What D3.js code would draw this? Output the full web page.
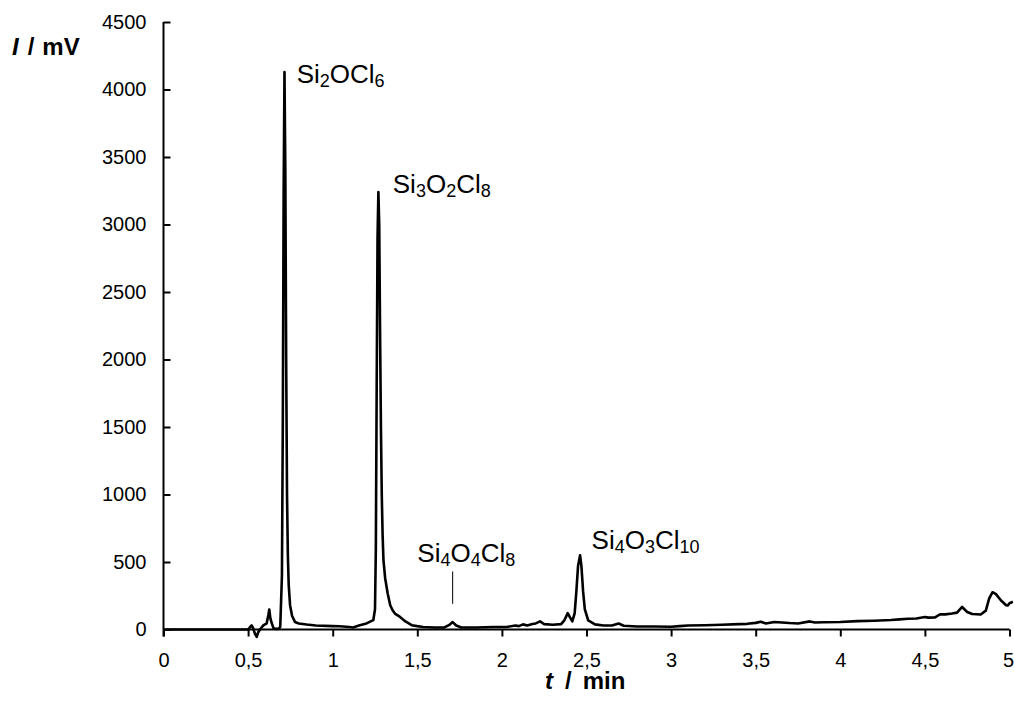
<!DOCTYPE html>
<html>
<head>
<meta charset="utf-8">
<script src="https://cdn.jsdelivr.net/npm/d3@7"></script>
<style>
  html, body { margin: 0; padding: 0; background: #fff; }
  svg { display: block; font-family: "Liberation Sans", Arial, sans-serif; }
</style>
</head>
<body>
<svg id="chart" width="1014" height="714"></svg>
<script>
// ---- data ----
const timeMin = [0, 0.5, 0.51, 0.521, 0.53, 0.54, 0.551, 0.56, 0.57, 0.59, 0.61, 0.62, 0.625, 0.632, 0.64, 0.65, 0.66, 0.68, 0.69,
  0.70, 0.705, 0.71, 0.715, 0.72, 0.725, 0.73, 0.735, 0.74, 0.748, 0.76, 0.777, 0.80, 0.846, 0.9, 1.0, 1.04, 1.1, 1.12, 1.16, 1.2,
  1.24, 1.25, 1.255, 1.26, 1.265, 1.27, 1.275, 1.28, 1.285, 1.29, 1.295, 1.30, 1.31, 1.325, 1.34, 1.354, 1.37, 1.398, 1.43, 1.467,
  1.5, 1.534, 1.6, 1.66, 1.69, 1.709, 1.73, 1.76, 1.85, 1.95, 2.03, 2.08, 2.1, 2.125, 2.15, 2.18, 2.2, 2.225, 2.25, 2.3, 2.35,
  2.37, 2.389, 2.40, 2.416, 2.43, 2.44, 2.45, 2.462, 2.47, 2.48, 2.49, 2.51, 2.55, 2.6, 2.65, 2.69, 2.72, 2.8, 2.9, 3.0, 3.05,
  3.1, 3.2, 3.3, 3.4, 3.45, 3.5, 3.53, 3.56, 3.61, 3.7, 3.75, 3.82, 3.85, 3.9, 4.0, 4.1, 4.2, 4.3, 4.35, 4.4, 4.45, 4.5, 4.52,
  4.56, 4.59, 4.62, 4.66, 4.69, 4.72, 4.75, 4.78, 4.83, 4.86, 4.88, 4.90, 4.92, 4.95, 4.98, 4.99, 5.0, 5.02];
const signalMV = [0, 0, 15, 30, 10, -30, -55, -20, 0, 30, 46, 110, 148, 80, 46, 10, 5, 5, 20,
  400, 1500, 3200, 4130, 3400, 2000, 1000, 550, 330, 180, 100, 56, 45, 37, 30, 25, 24, 18, 15, 32, 45,
  69, 150, 600, 1800, 2900, 3240, 3000, 2200, 1500, 1000, 700, 514, 380, 267, 180, 143, 115, 93, 60, 32,
  25, 19, 15, 15, 35, 55, 30, 15, 15, 18, 19, 30, 25, 38, 30, 40, 45, 60, 40, 35, 40,
  70, 121, 95, 61, 120, 280, 470, 550, 470, 280, 150, 67, 38, 30, 30, 44, 28, 22, 22, 20, 25,
  30, 32, 35, 40, 42, 49, 58, 45, 56, 48, 45, 60, 52, 54, 56, 62, 65, 70, 75, 80, 82, 92, 88,
  90, 113, 112, 118, 125, 167, 130, 115, 111, 140, 230, 276, 262, 215, 180, 178, 195, 205];

const xTicks = [0, 0.5, 1, 1.5, 2, 2.5, 3, 3.5, 4, 4.5, 5];
const xTickLabels = ["0", "0,5", "1", "1,5", "2", "2,5", "3", "3,5", "4", "4,5", "5"];
const yTicks = [0, 500, 1000, 1500, 2000, 2500, 3000, 3500, 4000, 4500];

// peak labels: [text, isSubscript]
const peakNames = [
  [["Si", false], ["2", true], ["OCl", false], ["6", true]],
  [["Si", false], ["3", true], ["O", false], ["2", true], ["Cl", false], ["8", true]],
  [["Si", false], ["4", true], ["O", false], ["4", true], ["Cl", false], ["8", true]],
  [["Si", false], ["4", true], ["O", false], ["3", true], ["Cl", false], ["10", true]]
];
const peakLabelT = [0.787, 1.355, 1.5, 2.53];
const peakLabelI = [4050, 3230, 500, 600];

// ---- layout ----
const svg = d3.select("#chart");
const mLeft = 163.5, mRight = 1009.5, mTop = 22, mBottom = 629.5;

const x = d3.scaleLinear().domain([0, 5]).range([mLeft, mRight]);
const y = d3.scaleLinear().domain([0, 4500]).range([mBottom, mTop]);

// line
const data = timeMin.map((t, i) => [t, signalMV[i]]);
const line = d3.line().x(d => x(d[0])).y(d => y(d[1]));
svg.append("path")
  .datum(data)
  .attr("d", line)
  .attr("fill", "none")
  .attr("stroke", "#000")
  .attr("stroke-width", 2.6)
  .attr("stroke-linejoin", "round");

// y axis
const yAxis = d3.axisLeft(y).tickValues(yTicks).tickFormat(d3.format("d"))
  .tickSizeInner(-7).tickSizeOuter(0).tickPadding(17);
const gy = svg.append("g").attr("transform", `translate(${mLeft},0)`).call(yAxis);
gy.select(".domain").remove();
gy.append("line").attr("x1", 0).attr("x2", 0).attr("y1", mTop).attr("y2", mBottom + 7)
  .attr("stroke", "#000").attr("stroke-width", 2);
gy.selectAll(".tick line").attr("stroke", "#000").attr("stroke-width", 2);
gy.selectAll(".tick text").attr("font-size", 20).attr("fill", "#000")
  .attr("font-family", "Liberation Sans, Arial, sans-serif");

// x axis
const xAxis = d3.axisBottom(x).tickValues(xTicks).tickFormat((d, i) => xTickLabels[i])
  .tickSizeInner(7).tickSizeOuter(0).tickPadding(16);
const gx = svg.append("g").attr("transform", `translate(0,${mBottom})`).call(xAxis);
gx.select(".domain").remove();
gx.append("line").attr("x1", mLeft).attr("x2", mRight).attr("y1", 0).attr("y2", 0)
  .attr("stroke", "#000").attr("stroke-width", 2);
gx.selectAll(".tick line").attr("stroke", "#000").attr("stroke-width", 2);
gx.selectAll(".tick text").attr("font-size", 20).attr("fill", "#000")
  .attr("font-family", "Liberation Sans, Arial, sans-serif");
// keep the last label inside the frame
gx.selectAll(".tick text").filter((d, i) => i === xTicks.length - 1).attr("text-anchor", "end").attr("dx", 4);

// axis titles
const yt = svg.append("text").attr("x", 12).attr("y", 55).attr("font-size", 24).attr("font-weight", "bold");
yt.append("tspan").attr("font-style", "italic").text("I");
yt.append("tspan").attr("dx", 9).text("/");
yt.append("tspan").attr("dx", 8).text("mV");

const xt = svg.append("text").attr("x", 545).attr("y", 689)
  .attr("font-size", 24).attr("font-weight", "bold");
xt.append("tspan").attr("font-style", "italic").text("t");
xt.append("tspan").attr("dx", 12).text("/");
xt.append("tspan").attr("dx", 11).text("min");

// peak labels
peakNames.forEach((parts, k) => {
  const t = svg.append("text").attr("x", x(peakLabelT[k])).attr("y", y(peakLabelI[k]))
    .attr("font-size", 26).attr("fill", "#000");
  parts.forEach(([s, sub], j) => {
    if (sub) {
      t.append("tspan").attr("font-size", 18).attr("dy", 4).text(s);
    } else {
      t.append("tspan").attr("font-size", 26).attr("dy", j > 0 ? -4 : 0).text(s);
    }
  });
});

// leader line for Si4O4Cl8
svg.append("line")
  .attr("x1", x(1.709)).attr("x2", x(1.709))
  .attr("y1", y(430)).attr("y2", y(190))
  .attr("stroke", "#000").attr("stroke-width", 1);
</script>
</body>
</html>
